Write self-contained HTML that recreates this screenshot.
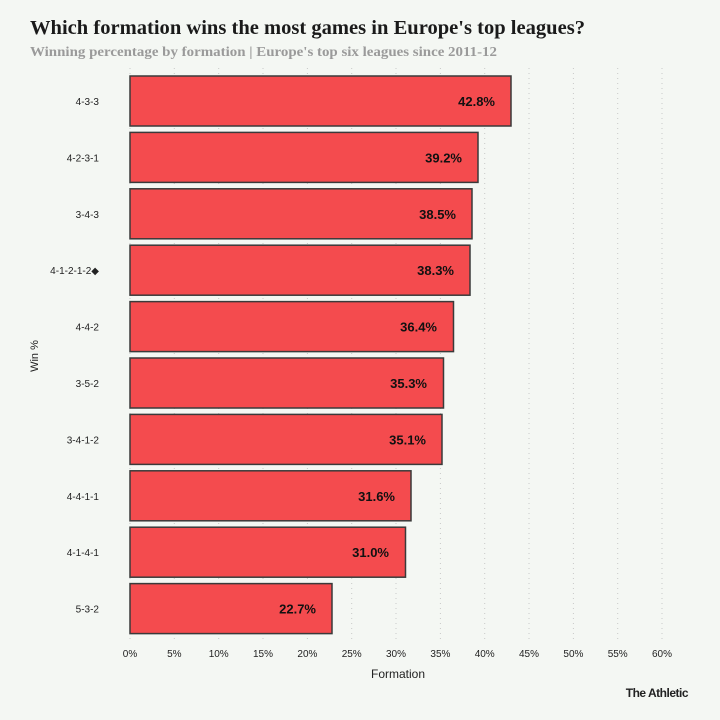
<!DOCTYPE html>
<html><head><meta charset="utf-8"><style>
body{margin:0;background:#f4f7f3;}
svg{display:block;font-family:"Liberation Sans",sans-serif;}
</style></head><body>
<svg width="720" height="720" viewBox="0 0 720 720">
<rect width="720" height="720" fill="#f4f7f3"/>
<text x="30" y="34" font-family="Liberation Serif,serif" font-weight="bold" font-size="20" fill="#1a1a1a" textLength="555" lengthAdjust="spacingAndGlyphs">Which formation wins the most games in Europe's top leagues?</text>
<text x="30" y="56" font-family="Liberation Serif,serif" font-weight="bold" font-size="14" fill="#9a9a9a" textLength="467" lengthAdjust="spacingAndGlyphs">Winning percentage by formation | Europe's top six leagues since 2011-12</text>
<g stroke="#c8c8c8" stroke-width="1" stroke-dasharray="1,4">
<line x1="130" y1="68" x2="130" y2="640"/><line x1="174.3" y1="68" x2="174.3" y2="640"/><line x1="218.7" y1="68" x2="218.7" y2="640"/><line x1="263" y1="68" x2="263" y2="640"/><line x1="307.4" y1="68" x2="307.4" y2="640"/><line x1="351.7" y1="68" x2="351.7" y2="640"/><line x1="396" y1="68" x2="396" y2="640"/><line x1="440.4" y1="68" x2="440.4" y2="640"/><line x1="484.7" y1="68" x2="484.7" y2="640"/><line x1="529" y1="68" x2="529" y2="640"/><line x1="573.4" y1="68" x2="573.4" y2="640"/><line x1="617.7" y1="68" x2="617.7" y2="640"/><line x1="662" y1="68" x2="662" y2="640"/>
</g>
<g fill="#f44b4e" stroke="#3a3a3a" stroke-width="1.5">
<rect x="130" y="76" width="381" height="50"/>
<rect x="130" y="132.4" width="348" height="50"/>
<rect x="130" y="188.8" width="342" height="50"/>
<rect x="130" y="245.2" width="340" height="50"/>
<rect x="130" y="301.6" width="323.5" height="50"/>
<rect x="130" y="358" width="313.5" height="50"/>
<rect x="130" y="414.4" width="312" height="50"/>
<rect x="130" y="470.8" width="281" height="50"/>
<rect x="130" y="527.2" width="275.5" height="50"/>
<rect x="130" y="583.6" width="202" height="50"/>
</g>
<g font-weight="bold" font-size="13" fill="#111" text-anchor="end">
<text x="495" y="106">42.8%</text><text x="462" y="162.4">39.2%</text><text x="456" y="218.8">38.5%</text><text x="454" y="275.2">38.3%</text><text x="437" y="331.6">36.4%</text><text x="427" y="388">35.3%</text><text x="426" y="444.4">35.1%</text><text x="395" y="500.8">31.6%</text><text x="389" y="557.2">31.0%</text><text x="316" y="613.6">22.7%</text>
</g>
<g font-size="10" fill="#222" text-anchor="end">
<text x="99" y="105">4-3-3</text><text x="99" y="161.4">4-2-3-1</text><text x="99" y="217.8">3-4-3</text><text x="99" y="274.2">4-1-2-1-2◆</text><text x="99" y="330.6">4-4-2</text><text x="99" y="387">3-5-2</text><text x="99" y="443.4">3-4-1-2</text><text x="99" y="499.8">4-4-1-1</text><text x="99" y="556.2">4-1-4-1</text><text x="99" y="612.6">5-3-2</text>
</g>
<g font-size="10" fill="#222" text-anchor="middle">
<text x="130" y="657">0%</text><text x="174.3" y="657">5%</text><text x="218.7" y="657">10%</text><text x="263" y="657">15%</text><text x="307.4" y="657">20%</text><text x="351.7" y="657">25%</text><text x="396" y="657">30%</text><text x="440.4" y="657">35%</text><text x="484.7" y="657">40%</text><text x="529" y="657">45%</text><text x="573.4" y="657">50%</text><text x="617.7" y="657">55%</text><text x="662" y="657">60%</text>
</g>
<text x="398" y="678" font-size="12" fill="#222" text-anchor="middle">Formation</text>
<text x="38" y="356" font-size="11" fill="#222" text-anchor="middle" transform="rotate(-90 38 356)">Win %</text>
<text x="688" y="697" font-size="12" font-weight="bold" fill="#222" text-anchor="end" letter-spacing="-0.5">The Athletic</text>
</svg>
</body></html>
